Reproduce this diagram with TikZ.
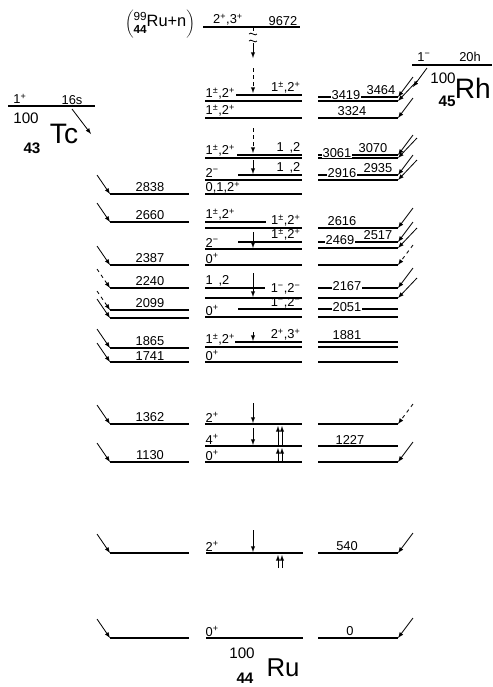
\documentclass[tikz,border=0pt]{standalone}
\usepackage{fontspec}
\setmainfont{Liberation Sans}
\newcommand{\Jp}{\textsuperscript{+}}
\newcommand{\Jm}{\textsuperscript{−}}
\newcommand{\Jpm}{\textsuperscript{±}}
\newcommand{\Jsp}{1\hspace{5pt},2}

\begin{document}
\begin{tikzpicture}[x=0.03cm, y=-0.03cm, >=latex]
  \tikzstyle{lvl}=[line width=1.2pt]
  \tikzstyle{feed}=[->, line width=0.7pt]
  \tikzstyle{gam}=[->, line width=0.7pt]
  \tikzstyle{jlab}=[inner sep=0.3pt, font=\fontsize{11}{12}\selectfont]
  \tikzstyle{elab}=[inner sep=0.6pt, font=\fontsize{11}{12}\selectfont]
  \tikzstyle{cut}=[fill=white]
  \tikzstyle{anum}=[inner sep=0pt, font=\fontsize{13}{13}\selectfont]
  \tikzstyle{zlab}=[inner sep=0pt, font=\fontsize{13}{13}\selectfont\bfseries]
  \useasboundingbox (0,0) rectangle (492,687);

  % Tc decay side (left)
  \foreach \e/\y/\s in {2838/194/solid, 2660/222/solid, 2387/265/solid, 2240/288/dashed, 2099/310/dashed, 2051/318/solid, 1865/348/solid, 1741/362/solid, 1362/424/solid, 1130/462/solid, 540/553/solid, 0/638/solid} {
    \coordinate (T-\e) at (110,\y);
    \coordinate (Ts-\e) at (97,\y-19);
    \draw[lvl] (T-\e) -- ++(79,0);
    \draw[feed,\s] (Ts-\e) -- (T-\e);
  }
  \foreach \e/\y in {2838/194, 2660/222, 2387/265, 2240/288, 2099/310, 1865/348, 1741/362, 1362/424, 1130/462}
    \node[elab, anchor=south] (Tn-\e) at (150,\y-1) {\e};

  % levels of 100Ru (middle)
  \draw[lvl] (203,27) coordinate (M-9672) -- (300,27);
  \foreach \e/\y/\xa/\xb in {3464/95/236/302, 3419/101/205/302, 3324/118/205/302, 3070/155/237/302, 3061/158/205/302, 2935/175/238/302, 2916/180/205/302, 2838/194/205/302, 2660/222/205/266, 2616/228/205/302, 2517/242/238/302, 2469/249/205/302, 2387/265/205/302, 2240/288/205/265, 2167/298/205/302, 2099/309/238/302, 2051/317/205/302, 1881/342/235/302, 1865/347/205/302, 1741/362/205/302, 1362/424/205/302, 1227/446/205/302, 1130/462/205/302, 540/553/206/303, 0/638/206/303}
    \draw[lvl] (\xa,\y) coordinate (M-\e) -- (\xb,\y);
  \node[jlab, anchor=south] (Mt-j) at (228,26) {2\Jp,3\Jp};
  \node[jlab, anchor=south] (Mt-e) at (283,26) {9672};
  \foreach \e/\y/\t in {3419/101/{1\Jpm,2\Jp}, 3324/118/{1\Jpm,2\Jp}, 3061/158/{1\Jpm,2\Jp}, 2916/179/{2\Jm}, 2838/195/{0,1,2\Jp}, 2660/222/{1\Jpm,2\Jp}, 2469/249/{2\Jm}, 2387/265/{0\Jp}, 2240/288/{\Jsp}, 2051/317/{0\Jp}, 1865/347/{1\Jpm,2\Jp}, 1741/362/{0\Jp}, 1362/424/{2\Jp}, 1227/446/{4\Jp}, 1130/462/{0\Jp}, 540/553/{2\Jp}, 0/638/{0\Jp}}
    \node[jlab, anchor=south west] (Ml-\e) at (205,\y-1) {\t};
  \foreach \e/\y/\t in {3464/95/{1\Jpm,2\Jp}, 3070/155/{\Jsp}, 2935/175/{\Jsp}, 2616/228/{1\Jpm,2\Jp}, 2517/242/{1\Jpm,2\Jp}, 2167/296/{1\Jm,2\Jm}, 2099/310/{1\Jm,2\Jm}, 1881/342/{2\Jp,3\Jp}}
    \node[jlab, anchor=south east] (Mr-\e) at (301,\y-1) {\t};

  % capture state, broken scale
  \coordinate (B0) at (253,27);
  \coordinate (B1) at (253,31);
  \draw[line width=0.7pt] (B0) -- (B1);
  \draw[line width=0.7pt] (249,34) .. controls (251,31) and (255,37) .. (257,34);
  \draw[line width=0.7pt] (249,41) .. controls (251,38) and (255,44) .. (257,41);
  \coordinate (B2) at (253,43);
  \coordinate (B3) at (253,58);
  \draw[gam] (B2) -- (B3);

  % gamma transitions
  \foreach \a/\b/\s in {68/93/dashed, 128/153/dashed, 160/174/solid, 232/248/solid, 273/297/solid, 332/341/solid, 403/423/solid, 428/445/solid, 530/552/solid} {
    \coordinate (Gs-\a) at (253,\a);
    \coordinate (Ge-\a) at (253,\b);
    \draw[gam,\s] (Gs-\a) -- (Ge-\a);
  }
  \foreach \a/\b in {446/426, 462/448, 568/555} {
    \coordinate (Us-\a) at (278,\a);
    \coordinate (Ue-\a) at (278,\b);
    \coordinate (Vs-\a) at (282,\a);
    \coordinate (Ve-\a) at (282,\b);
    \draw[gam] (Us-\a) -- (Ue-\a);
    \draw[gam] (Vs-\a) -- (Ve-\a);
  }

  % Rh decay side (right)
  \foreach \e/\y in {3464/97, 3419/101, 3324/118, 3070/155, 3061/158, 2935/175, 2916/180, 2616/228, 2517/242, 2469/248, 2387/265, 2240/288, 2167/298, 2099/309, 2051/317, 1881/342, 1865/347, 1741/362, 1362/424, 1227/446, 1130/462, 540/553, 0/638}
    \draw[lvl] (318,\y) coordinate (R-\e) -- (398,\y) coordinate (Re-\e);
  \foreach \e/\y/\x in {3324/118/352, 2616/228/342, 1881/342/347, 1227/446/350, 540/553/347, 0/638/350, 3464/97/381, 3070/155/373, 2935/175/378, 2517/242/378}
    \node[elab, anchor=south] (Rn-\e) at (\x,\y-1) {\e};
  \foreach \e/\y/\x in {3419/97/346, 3061/155/337, 2916/175/342, 2469/242/340, 2167/288/347, 2051/309/347}
    \node[elab, cut] (Rn-\e) at (\x,\y-2) {\e};
  \foreach \e/\y/\d/\s in {3464/97/0/solid, 3419/101/4/solid, 3324/118/0/solid, 3070/155/0/solid, 3061/158/4/solid, 2935/175/0/solid, 2916/180/4/solid, 2616/228/0/solid, 2517/242/0/solid, 2469/248/4/solid, 2387/265/0/dashed, 2240/288/0/solid, 2167/298/4/solid, 1362/424/0/dashed, 1130/462/0/solid, 540/553/0/solid, 0/638/0/solid} {
    \coordinate (Rs-\e) at (413+\d,\y-20);
    \draw[feed,\s] (Rs-\e) -- (Re-\e);
  }

  % parent nuclei
  \node[inner sep=0pt, font=\fontsize{10}{11}\selectfont] (cap) at (160,24)
    {$\left(\begin{tabular}{@{}l@{}}99\\\bfseries 44\end{tabular}\hbox{\fontsize{14}{15}\selectfont Ru+n}\right)$};

  \node[elab] (Rh-j) at (424,57) {1\Jm};
  \node[elab] (Rh-t) at (470,57) {20h};
  \coordinate (Rh-a) at (412,65);
  \coordinate (Rh-b) at (492,65);
  \draw[lvl] (Rh-a) -- (Rh-b);
  \coordinate (Rh-s) at (427,68);
  \coordinate (Rh-e) at (413,87);
  \draw[feed] (Rh-s) -- (Rh-e);
  \node[anum] (Rh-A) at (443,78) {100};
  \node[inner sep=0pt, font=\fontsize{24}{24}\selectfont, anchor=east] (Rh) at (491,88) {Rh};
  \node[zlab] (Rh-Z) at (447,101) {45};

  \node[elab] (Tc-j) at (20,99) {1\Jp};
  \node[elab] (Tc-t) at (72,100) {16s};
  \coordinate (Tc-a) at (8,106);
  \coordinate (Tc-b) at (95,106);
  \draw[lvl] (Tc-a) -- (Tc-b);
  \coordinate (Tc-s) at (72,109);
  \coordinate (Tc-e) at (91,134);
  \draw[feed] (Tc-s) -- (Tc-e);
  \node[anum] (Tc-A) at (26,118) {100};
  \node[inner sep=0pt, font=\fontsize{24}{24}\selectfont] (Tc) at (64,134) {Tc};
  \node[zlab] (Tc-Z) at (32,148) {43};

  \node[anum] (Ru-A) at (242,653) {100};
  \node[inner sep=0pt, font=\fontsize{22}{22}\selectfont] (Ru) at (283,668) {Ru};
  \node[zlab] (Ru-Z) at (245,678) {44};
\end{tikzpicture}
\end{document}
